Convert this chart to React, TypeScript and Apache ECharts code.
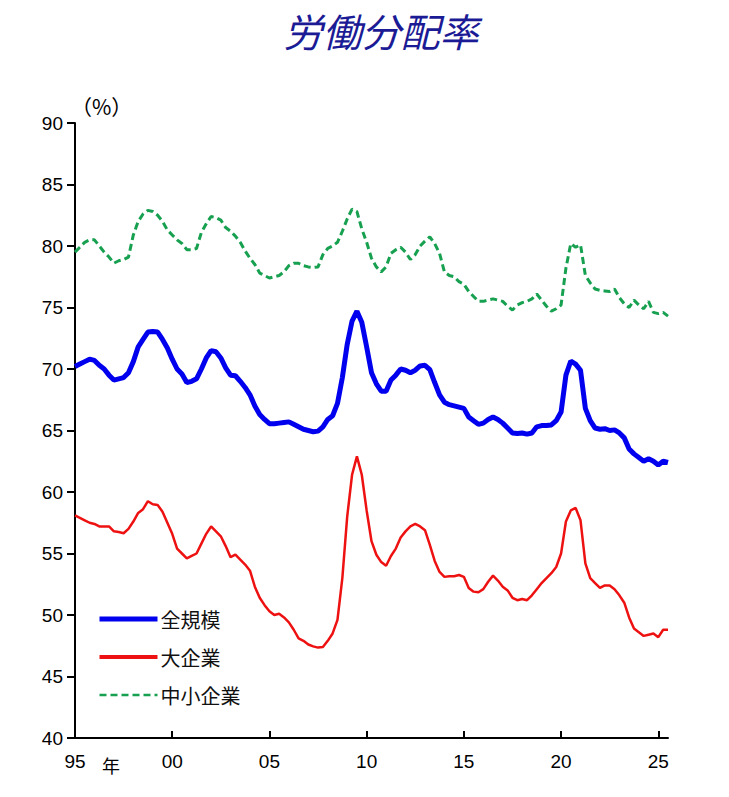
import React, { useRef, useEffect } from "react";
import * as echarts from "echarts";

// quarterly, 1995Q1 .. 2025Q3
const startYear = 1995;
const quarterCount = 123;

const allSizes = [
  70.2, 70.4, 70.6, 70.8,
  70.7, 70.3, 70.0, 69.5,
  69.1, 69.2, 69.3, 69.7,
  70.6, 71.8, 72.4, 73.0,
  73.05, 73.0, 72.4, 71.7,
  70.8, 70.0, 69.6, 68.9,
  69.0, 69.2, 70.0, 70.9,
  71.5, 71.4, 70.9, 70.1,
  69.5, 69.45, 69.0, 68.5,
  67.9, 67.0, 66.3, 65.9,
  65.55, 65.55, 65.6, 65.65,
  65.7, 65.5, 65.3, 65.1,
  65.0, 64.9, 64.95, 65.3,
  65.9, 66.2, 67.2, 69.3,
  72.0, 73.9, 74.7, 73.8,
  71.8, 69.7, 68.8, 68.2,
  68.2, 69.1, 69.5, 70.0,
  69.9, 69.7, 69.9, 70.25,
  70.3, 69.95, 68.9, 67.9,
  67.3, 67.1, 67.0, 66.9,
  66.8, 66.1, 65.8, 65.5,
  65.6, 65.9, 66.1, 65.9,
  65.6, 65.2, 64.8, 64.75,
  64.8, 64.7, 64.8, 65.3,
  65.4, 65.4, 65.45, 65.8,
  66.5, 69.5, 70.65, 70.4,
  69.9, 66.8, 65.8, 65.2,
  65.1, 65.15, 65.0, 65.05,
  64.8, 64.4, 63.5, 63.1,
  62.8, 62.5, 62.7, 62.5,
  62.2, 62.5, 62.4,
];

const largeFirms = [
  58.1, 57.9, 57.7, 57.5,
  57.4, 57.2, 57.2, 57.2,
  56.8, 56.75, 56.65, 57.0,
  57.6, 58.3, 58.6, 59.25,
  59.0, 58.95, 58.4, 57.5,
  56.6, 55.4, 55.0, 54.6,
  54.8, 55.0, 55.8, 56.6,
  57.2, 56.8, 56.4, 55.6,
  54.7, 54.9, 54.5, 54.1,
  53.6, 52.3, 51.4, 50.8,
  50.3, 50.0, 50.1, 49.8,
  49.4, 48.8, 48.1, 47.9,
  47.6, 47.45, 47.35, 47.4,
  47.9, 48.5, 49.6, 53.0,
  58.0, 61.4, 62.9, 61.4,
  58.5, 56.0, 54.9, 54.3,
  54.0, 54.8, 55.4, 56.3,
  56.8, 57.2, 57.4, 57.2,
  56.9, 55.7, 54.4, 53.5,
  53.1, 53.15, 53.15, 53.25,
  53.1, 52.2, 51.9, 51.85,
  52.1, 52.7, 53.2, 52.8,
  52.3, 52.0, 51.4, 51.2,
  51.3, 51.2, 51.6, 52.1,
  52.6, 53.0, 53.4, 53.9,
  55.0, 57.6, 58.5, 58.7,
  57.7, 54.2, 53.0, 52.6,
  52.2, 52.4, 52.4, 52.1,
  51.6, 51.0, 49.8, 48.9,
  48.6, 48.3, 48.4, 48.5,
  48.2, 48.8, 48.8,
];

const smallFirms = [
  79.5, 79.9, 80.3, 80.5,
  80.5, 80.0, 79.5, 79.1,
  78.6, 78.8, 78.9, 79.1,
  80.9, 82.0, 82.6, 82.9,
  82.8, 82.5, 82.0, 81.3,
  80.9, 80.5, 80.2, 79.7,
  79.7, 79.8, 81.1, 81.8,
  82.4, 82.3, 82.1, 81.5,
  81.2, 80.8, 80.3, 79.6,
  79.0, 78.5, 77.8, 77.6,
  77.4, 77.5, 77.6, 77.9,
  78.4, 78.6, 78.6, 78.4,
  78.3, 78.25, 78.3, 79.3,
  79.8, 80.0, 80.3, 81.2,
  82.2, 83.0, 82.8, 81.4,
  80.3, 79.0, 78.3, 77.9,
  78.3, 79.4, 79.7, 79.9,
  79.5, 78.9, 79.3, 80.0,
  80.4, 80.75, 80.2, 79.4,
  77.9, 77.6, 77.5, 77.1,
  76.9, 76.3, 75.9, 75.5,
  75.5, 75.6, 75.7, 75.6,
  75.5, 75.1, 74.8, 75.2,
  75.4, 75.5, 75.7, 76.1,
  75.6, 75.1, 74.7, 74.9,
  75.2, 78.2, 80.2, 79.9,
  80.1, 77.6, 77.0, 76.5,
  76.4, 76.35, 76.3, 76.5,
  75.8, 75.3, 75.0, 75.6,
  75.2, 74.9, 75.5, 74.6,
  74.5, 74.6, 74.3,
];

const seriesNames = ["全規模", "大企業", "中小企業"];
const quarters: string[] = [];
for (let i = 0; i < quarterCount; i++) {
  quarters.push(`${startYear + Math.floor(i / 4)}Q${(i % 4) + 1}`);
}

const blue = "#0000ee";
const red = "#ee1111";
const green = "#17a050";

const cjk = "'Noto Sans CJK JP', sans-serif";
const num = "'Liberation Sans Narrow', 'Liberation Sans', 'Noto Sans CJK JP', sans-serif";

export default function App() {
  const chartRef = useRef<HTMLDivElement>(null);

  useEffect(() => {
    if (!chartRef.current) return;
    const chart = echarts.init(chartRef.current, null, { renderer: "svg" });

    chart.setOption({
      animation: false,
      backgroundColor: "#ffffff",
      grid: { left: 75, right: 61, top: 123, bottom: 59 },
      legend: {
        orient: "vertical",
        left: 92,
        top: 604,
        itemWidth: 58,
        itemHeight: 14,
        itemGap: 18,
        itemStyle: { opacity: 0 },
        data: [
          { name: seriesNames[0], lineStyle: { width: 5 } },
          { name: seriesNames[1], lineStyle: { width: 4 } },
          { name: seriesNames[2], lineStyle: { width: 2.5 } },
        ],
        textStyle: { fontFamily: cjk, fontSize: 20, color: "#111", padding: [0, 0, 0, -2] },
      },
      xAxis: {
        type: "category",
        data: quarters,
        boundaryGap: false,
        axisLine: { lineStyle: { color: "#000", width: 2 } },
        axisTick: {
          inside: true,
          length: 7,
          interval: (idx: number) => idx % 20 === 0,
          lineStyle: { color: "#000", width: 2 },
        },
        axisLabel: {
          interval: (idx: number) => idx % 20 === 0,
          formatter: (v: string) => v.slice(2, 4),
          color: "#000",
          fontSize: 19,
          fontFamily: num,
          margin: 14,
        },
        splitLine: { show: false },
      },
      yAxis: {
        type: "value",
        min: 40,
        max: 90,
        interval: 5,
        axisLine: { show: true, lineStyle: { color: "#000", width: 2 } },
        axisTick: { show: true, length: 8, lineStyle: { color: "#000", width: 2 } },
        axisLabel: { color: "#000", fontSize: 19, fontFamily: num, margin: 12 },
        splitLine: { show: false },
      },
      graphic: [
        {
          type: "text",
          x: 381,
          y: 30,
          style: {
            text: "労働分配率",
            fontFamily: cjk,
            fontSize: 39,
            fontStyle: "italic",
            fill: "#1b1b95",
            align: "center",
            verticalAlign: "middle",
          },
        },
        {
          type: "text",
          left: 71,
          top: 95,
          style: { text: "（%）", fontFamily: cjk, fontSize: 21, fill: "#000" },
        },
        {
          type: "text",
          left: 102,
          top: 756,
          style: { text: "年", fontFamily: cjk, fontSize: 18, fill: "#000" },
        },
      ],
      series: [
        {
          name: seriesNames[0],
          type: "line",
          data: allSizes,
          symbol: "none",
          z: 3,
          lineStyle: { color: blue, width: 5 },
          itemStyle: { color: blue },
        },
        {
          name: seriesNames[1],
          type: "line",
          data: largeFirms,
          symbol: "none",
          z: 2,
          lineStyle: { color: red, width: 2.5 },
          itemStyle: { color: red },
        },
        {
          name: seriesNames[2],
          type: "line",
          data: smallFirms,
          symbol: "none",
          z: 1,
          lineStyle: { color: green, width: 3, type: [7, 4] },
          itemStyle: { color: green },
        },
      ],
    });

    return () => chart.dispose();
  }, []);

  return (
    <div
      ref={chartRef}
      style={{ position: "absolute", left: 0, top: 0, width: 729, height: 797 }}
    />
  );
}
